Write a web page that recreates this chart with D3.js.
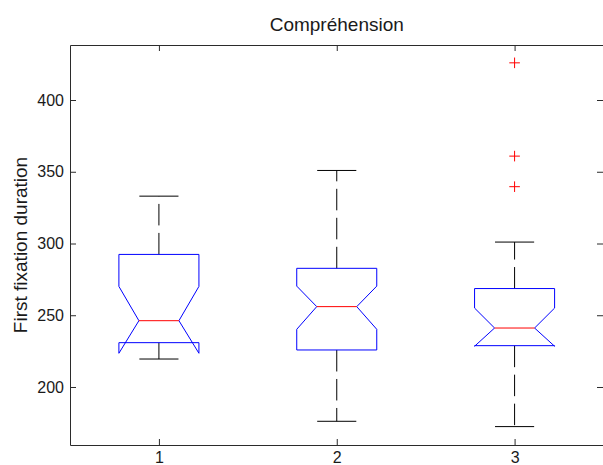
<!DOCTYPE html>
<html>
<head>
<meta charset="utf-8">
<script src="https://cdn.jsdelivr.net/npm/d3@7"></script>
<style>
  body { margin: 0; background: #fff; }
  text { font-family: "Liberation Sans", Arial, sans-serif; fill: #1a1a1a; }
</style>
</head>
<body>
<svg id="chart" width="603" height="465"></svg>
<script>
const categories = [1, 2, 3];
const q1 = [230.9, 225.8, 228.8];
const medians = [246.2, 256.0, 241.1];
const q3 = [292.4, 282.7, 268.6];
const notchLow = [223.5, 240.2, 228.4];
const notchHigh = [270.1, 270.3, 255.0];
const whiskerLow = [219.5, 176.1, 172.4];
const whiskerHigh = [333.0, 350.9, 301.0];
const outliers = [[], [], [425.9, 360.9, 339.6]];
const yTicks = [200, 250, 300, 350, 400];

const title = 'Compréhension';
const yLabel = 'First fixation duration';

const size = {left: 70, right: 603.5, top: 45, bottom: 445};
const boxHalf = 0.225;
const capHalf = 0.11;

const svg = d3.select('#chart');

const x = d3.scaleLinear().domain([0.5, 3.5]).range([size.left, size.right]);
const y = d3.scaleLinear().domain([159.58, 438.33]).range([size.bottom, size.top]);

const boxes = categories.map((c, i) => ({
  c,
  q1: q1[i],
  med: medians[i],
  q3: q3[i],
  nLo: notchLow[i],
  nHi: notchHigh[i],
  wLo: whiskerLow[i],
  wHi: whiskerHigh[i],
  out: outliers[i]
}));

function axes(parent, helpers) {
  let {x, y, size} = helpers;

  parent.append('g')
    .attr('transform', `translate(${size.left},0)`)
    .call(d3.axisLeft(y).tickValues(yTicks).tickSizeInner(-6).tickSizeOuter(0).tickPadding(6));

  parent.append('g')
    .attr('transform', `translate(${Math.floor(size.right)},0)`)
    .call(d3.axisRight(y).tickValues(yTicks).tickSizeInner(-6).tickSizeOuter(0).tickFormat(''));

  parent.append('g')
    .attr('transform', `translate(0,${size.bottom})`)
    .call(d3.axisBottom(x).tickValues(categories).tickFormat(d3.format('d'))
      .tickSizeInner(-6).tickSizeOuter(0).tickPadding(7));

  parent.append('g')
    .attr('transform', `translate(0,${size.top})`)
    .call(d3.axisTop(x).tickValues(categories).tickSizeInner(-6).tickSizeOuter(0).tickFormat(''));

  parent.selectAll('.domain, .tick line').attr('stroke', '#2b2b2b');
  parent.selectAll('.tick text').attr('font-size', 16).attr('fill', '#1a1a3a');
}

function boxPath(d) {
  let l = x(d.c - boxHalf), r = x(d.c + boxHalf);
  let li = x(d.c - boxHalf / 2), ri = x(d.c + boxHalf / 2);
  let p = d3.path();
  p.moveTo(l, y(d.q1));
  p.lineTo(l, y(d.nLo));
  p.lineTo(li, y(d.med));
  p.lineTo(l, y(d.nHi));
  p.lineTo(l, y(d.q3));
  p.lineTo(r, y(d.q3));
  p.lineTo(r, y(d.nHi));
  p.lineTo(ri, y(d.med));
  p.lineTo(r, y(d.nLo));
  p.lineTo(r, y(d.q1));
  p.closePath();
  return p.toString();
}

function boxplot(parent, data) {
  let g = parent.selectAll('.box')
    .data(data)
    .enter().append('g')
    .attr('class', 'box');

  g.append('line')
    .attr('x1', (d) => x(d.c)).attr('x2', (d) => x(d.c))
    .attr('y1', (d) => y(d.q3)).attr('y2', (d) => y(d.wHi))
    .attr('stroke', '#000').attr('stroke-dasharray', '21.5,7.5');

  g.append('line')
    .attr('x1', (d) => x(d.c)).attr('x2', (d) => x(d.c))
    .attr('y1', (d) => y(d.q1)).attr('y2', (d) => y(d.wLo))
    .attr('stroke', '#000').attr('stroke-dasharray', '21.5,7.5');

  ['wHi', 'wLo'].forEach((k) => {
    g.append('line')
      .attr('x1', (d) => x(d.c - capHalf)).attr('x2', (d) => x(d.c + capHalf))
      .attr('y1', (d) => y(d[k])).attr('y2', (d) => y(d[k]))
      .attr('stroke', '#000');
  });

  g.append('path')
    .attr('d', boxPath)
    .attr('fill', 'none')
    .attr('stroke', '#0000ff');

  g.append('line')
    .attr('x1', (d) => x(d.c - boxHalf / 2)).attr('x2', (d) => x(d.c + boxHalf / 2))
    .attr('y1', (d) => y(d.med)).attr('y2', (d) => y(d.med))
    .attr('stroke', '#ff0000');

  g.selectAll('.outlier')
    .data((d) => d.out.map((v) => ({c: d.c, v})))
    .enter().append('path')
    .attr('class', 'outlier')
    .attr('d', (o) => `M${x(o.c) - 5.3},${y(o.v)}h10.6M${x(o.c)},${y(o.v) - 5.3}v10.6`)
    .attr('stroke', '#ff0000')
    .attr('fill', 'none');
}

axes(svg, {x, y, size});
boxplot(svg, boxes);

svg.append('text')
  .attr('x', (size.left + size.right) / 2)
  .attr('y', 31)
  .attr('text-anchor', 'middle')
  .attr('font-size', 19)
  .text(title);

svg.append('text')
  .attr('transform', `translate(26.5,${(size.top + size.bottom) / 2}) rotate(-90)`)
  .attr('text-anchor', 'middle')
  .attr('font-size', 19)
  .attr('fill', '#2a1a1a')
  .text(yLabel);
</script>
</body>
</html>
